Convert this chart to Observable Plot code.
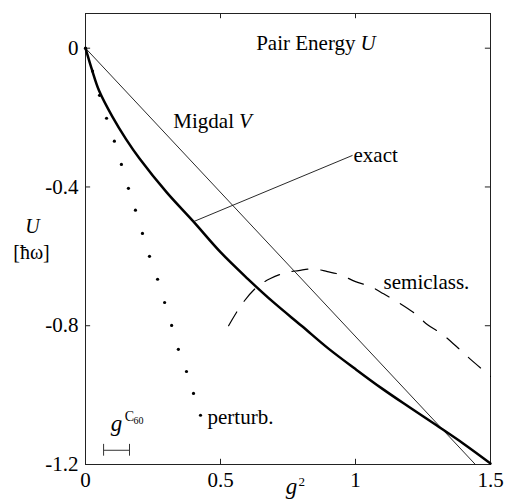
<!DOCTYPE html>
<html><head><meta charset="utf-8">
<script src="https://cdn.jsdelivr.net/npm/d3@7"></script>
<script src="https://cdn.jsdelivr.net/npm/@observablehq/plot@0.6"></script>
<style>body{margin:0;background:#fff}</style>
</head><body><div id="chart"></div>
<script>
// Axis ticks
const xTickVals = [0, 0.5, 1, 1.5];
const xTickLabels = ["0", "0.5", "1", "1.5"];
const yTickVals = [0, -0.4, -0.8, -1.2];
const yTickLabels = ["0", "-0.4", "-0.8", "-1.2"];
const xInnerTicks = [0.5, 1];
const yInnerTicks = [0, -0.4, -0.8];

// Migdal V (straight line)
const migdalX = [0, 1.444];
const migdalY = [0, -1.2];

// exact (thick curve)
const exactX = [0, 0.025, 0.05, 0.1, 0.15, 0.2, 0.3, 0.4, 0.5, 0.6, 0.7, 0.8, 0.9, 1.0, 1.1, 1.2, 1.3, 1.4, 1.5];
const exactY = [0, -0.065, -0.122, -0.198, -0.262, -0.318, -0.415, -0.500, -0.588, -0.664, -0.735, -0.800, -0.866, -0.925, -0.982, -1.035, -1.087, -1.140, -1.197];

// semiclassical (dashed)
const semiX = [0.530, 0.581, 0.637, 0.685, 0.741, 0.789, 0.844, 0.896, 0.944, 1.000, 1.056, 1.104, 1.159, 1.215, 1.267, 1.322, 1.374, 1.422, 1.500];
const semiY = [-0.800, -0.736, -0.687, -0.664, -0.647, -0.641, -0.636, -0.644, -0.653, -0.673, -0.687, -0.708, -0.733, -0.762, -0.797, -0.825, -0.860, -0.894, -0.946];

// perturbative (dots)
const pertX = [0, 0.026, 0.052, 0.078, 0.107, 0.133, 0.159, 0.185, 0.211, 0.237, 0.267, 0.293, 0.319, 0.344, 0.374, 0.400, 0.426];
const pertY = [0, -0.066, -0.136, -0.202, -0.268, -0.335, -0.404, -0.467, -0.534, -0.600, -0.666, -0.733, -0.799, -0.868, -0.932, -0.995, -1.058];

// g^C60 range bar
const gC60Range = [0.067, 0.163];
const gC60BarY = -1.159;

const zip = (xs, ys) => xs.map((x, i) => ({x, y: ys[i]}));
const exact = zip(exactX, exactY);
const semi = zip(semiX, semiY);
const pert = zip(pertX, pertY);
const migdal = zip(migdalX, migdalY);

const tkY = 0.015, tkX = 0.019, capY = 0.017;
const font = '"Liberation Serif", "DejaVu Serif", serif';
const fs = 21;

const chart = Plot.plot({
  width: 506, height: 504,
  marginLeft: 85, marginRight: 16, marginTop: 13, marginBottom: 40,
  x: {domain: [0, 1.5]},
  y: {domain: [-1.2, 0.1]},
  style: {fontFamily: font, fontSize: fs + "px", background: "#fff", color: "#000"},
  marks: [
    Plot.frame({stroke: "#222", strokeWidth: 1}),
    Plot.axisX({ticks: xTickVals, tickFormat: d => xTickLabels[xTickVals.indexOf(d)], tickSize: 0, tickPadding: 8, label: null, fontSize: fs}),
    Plot.axisY({ticks: yTickVals, tickFormat: d => yTickLabels[yTickVals.indexOf(d)], tickSize: 0, tickPadding: 7, label: null, fontSize: fs}),
    // inward ticks
    Plot.ruleX(xInnerTicks, {x: d => d, y1: -1.2, y2: -1.2 + tkY, stroke: "#222"}),
    Plot.ruleX(xInnerTicks, {x: d => d, y1: 0.1, y2: 0.1 - tkY, stroke: "#222"}),
    Plot.ruleY(yInnerTicks, {y: d => d, x1: 0, x2: tkX, stroke: "#222"}),
    Plot.ruleY(yInnerTicks, {y: d => d, x1: 1.5, x2: 1.5 - tkX, stroke: "#222"}),
    // curves
    Plot.line(migdal, {x: "x", y: "y", stroke: "#111", strokeWidth: 0.9}),
    Plot.line(exact, {x: "x", y: "y", stroke: "#000", strokeWidth: 2.5, curve: "catmull-rom"}),
    Plot.line(semi, {x: "x", y: "y", stroke: "#000", strokeWidth: 1.2, strokeDasharray: "16,13", curve: "catmull-rom"}),
    Plot.dot(pert, {x: "x", y: "y", r: 1.6, fill: "#000", stroke: null}),
    // exact pointer
    Plot.link([{x1: 0.40, y1: -0.50, x2: 0.989, y2: -0.309}], {x1: "x1", y1: "y1", x2: "x2", y2: "y2", stroke: "#111", strokeWidth: 0.9}),
    // g^C60 bar
    Plot.link([{x1: gC60Range[0], x2: gC60Range[1], y: gC60BarY}], {x1: "x1", x2: "x2", y1: "y", y2: "y", stroke: "#333", strokeWidth: 1}),
    Plot.ruleX(gC60Range, {x: d => d, y1: gC60BarY - capY, y2: gC60BarY + capY, stroke: "#333", strokeWidth: 1}),
    // labels
    Plot.text(["Pair Energy"], {x: 1.0, y: 0.014, textAnchor: "end", fontSize: fs}),
    Plot.text(["U"], {x: 1.0, y: 0.014, dx: 5, textAnchor: "start", fontSize: fs, fontStyle: "italic"}),
    Plot.text(["Migdal"], {x: 0.55, y: -0.21, textAnchor: "end", fontSize: fs}),
    Plot.text(["V"], {x: 0.55, y: -0.21, dx: 5, textAnchor: "start", fontSize: fs, fontStyle: "italic"}),
    Plot.text(["exact"], {x: 0.989, y: -0.309, dx: 1, textAnchor: "start", fontSize: fs}),
    Plot.text(["semiclass."], {x: 1.104, y: -0.675, textAnchor: "start", fontSize: fs}),
    Plot.text(["perturb."], {x: 0.452, y: -1.065, textAnchor: "start", fontSize: fs}),
    Plot.text(["g"], {x: 0.115, y: -1.082, textAnchor: "middle", fontSize: 23, fontStyle: "italic"}),
    Plot.text(["C"], {x: 0.145, y: -1.062, textAnchor: "start", fontSize: 14}),
    Plot.text(["60"], {x: 0.178, y: -1.074, textAnchor: "start", fontSize: 10}),
    Plot.text(["g"], {x: 0.763, frameAnchor: "bottom", dy: 29, textAnchor: "middle", fontSize: 23, fontStyle: "italic"}),
    Plot.text(["2"], {x: 0.763, frameAnchor: "bottom", dx: 7, dy: 21, textAnchor: "start", fontSize: 13}),
    Plot.text(["U"], {y: -0.515, frameAnchor: "left", dx: -53, textAnchor: "middle", fontSize: 20, fontStyle: "italic"}),
    Plot.text(["[ħω]"], {y: -0.588, frameAnchor: "left", dx: -54, textAnchor: "middle", fontSize: 20})
  ]
});
document.getElementById("chart").appendChild(chart);
</script>
</body></html>
